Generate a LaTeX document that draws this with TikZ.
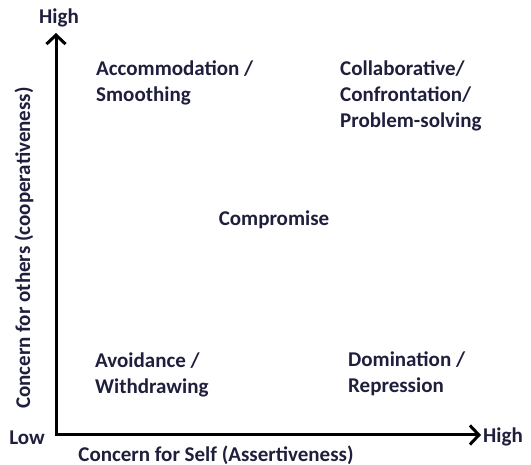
\documentclass[tikz,border=0pt]{standalone}
\usepackage{fontspec}
\setmainfont{Carlito}
\usetikzlibrary{arrows.meta}
\definecolor{labelink}{HTML}{1F1F3D}
\begin{document}
\begin{tikzpicture}[x=1pt,y=-1pt,
  lbl/.style={font=\fontsize{21}{26}\selectfont\bfseries, text=labelink, inner sep=0pt, align=left},
  axis/.style={line width=3pt, black,
    {Straight Barb[length=9pt,width=19pt,line width=3pt]}-{Straight Barb[length=9pt,width=19pt,line width=3pt]}}]
  \useasboundingbox (0,0) rectangle (531,465);

  % axes
  \coordinate (ytip) at (56,33);
  \coordinate (xtip) at (481,435);
  \draw[axis] (ytip) |- (xtip);

  % axis end labels
  \node[lbl] (yhigh) at (59,18) {High};
  \node[lbl] (xhigh) at (503,437) {High};
  \node[lbl] (low) at (27,438) {Low};

  % axis titles
  \node[lbl] (xtitle) at (216,455) {Concern for Self (Assertiveness)};
  \node[lbl, rotate=90] (ytitle) at (24,248) {Concern for others (cooperativeness)};

  % conflict handling styles
  \node[lbl, anchor=west] (accom) at (96,83) {Accommodation /\\Smoothing};
  \node[lbl, anchor=west] (collab) at (340,96) {Collaborative/\\Confrontation/\\Problem-solving};
  \node[lbl] (comp) at (274,220) {Compromise};
  \node[lbl, anchor=west] (avoid) at (95,375) {Avoidance /\\Withdrawing};
  \node[lbl, anchor=west] (domin) at (348,374) {Domination /\\Repression};
\end{tikzpicture}
\end{document}
